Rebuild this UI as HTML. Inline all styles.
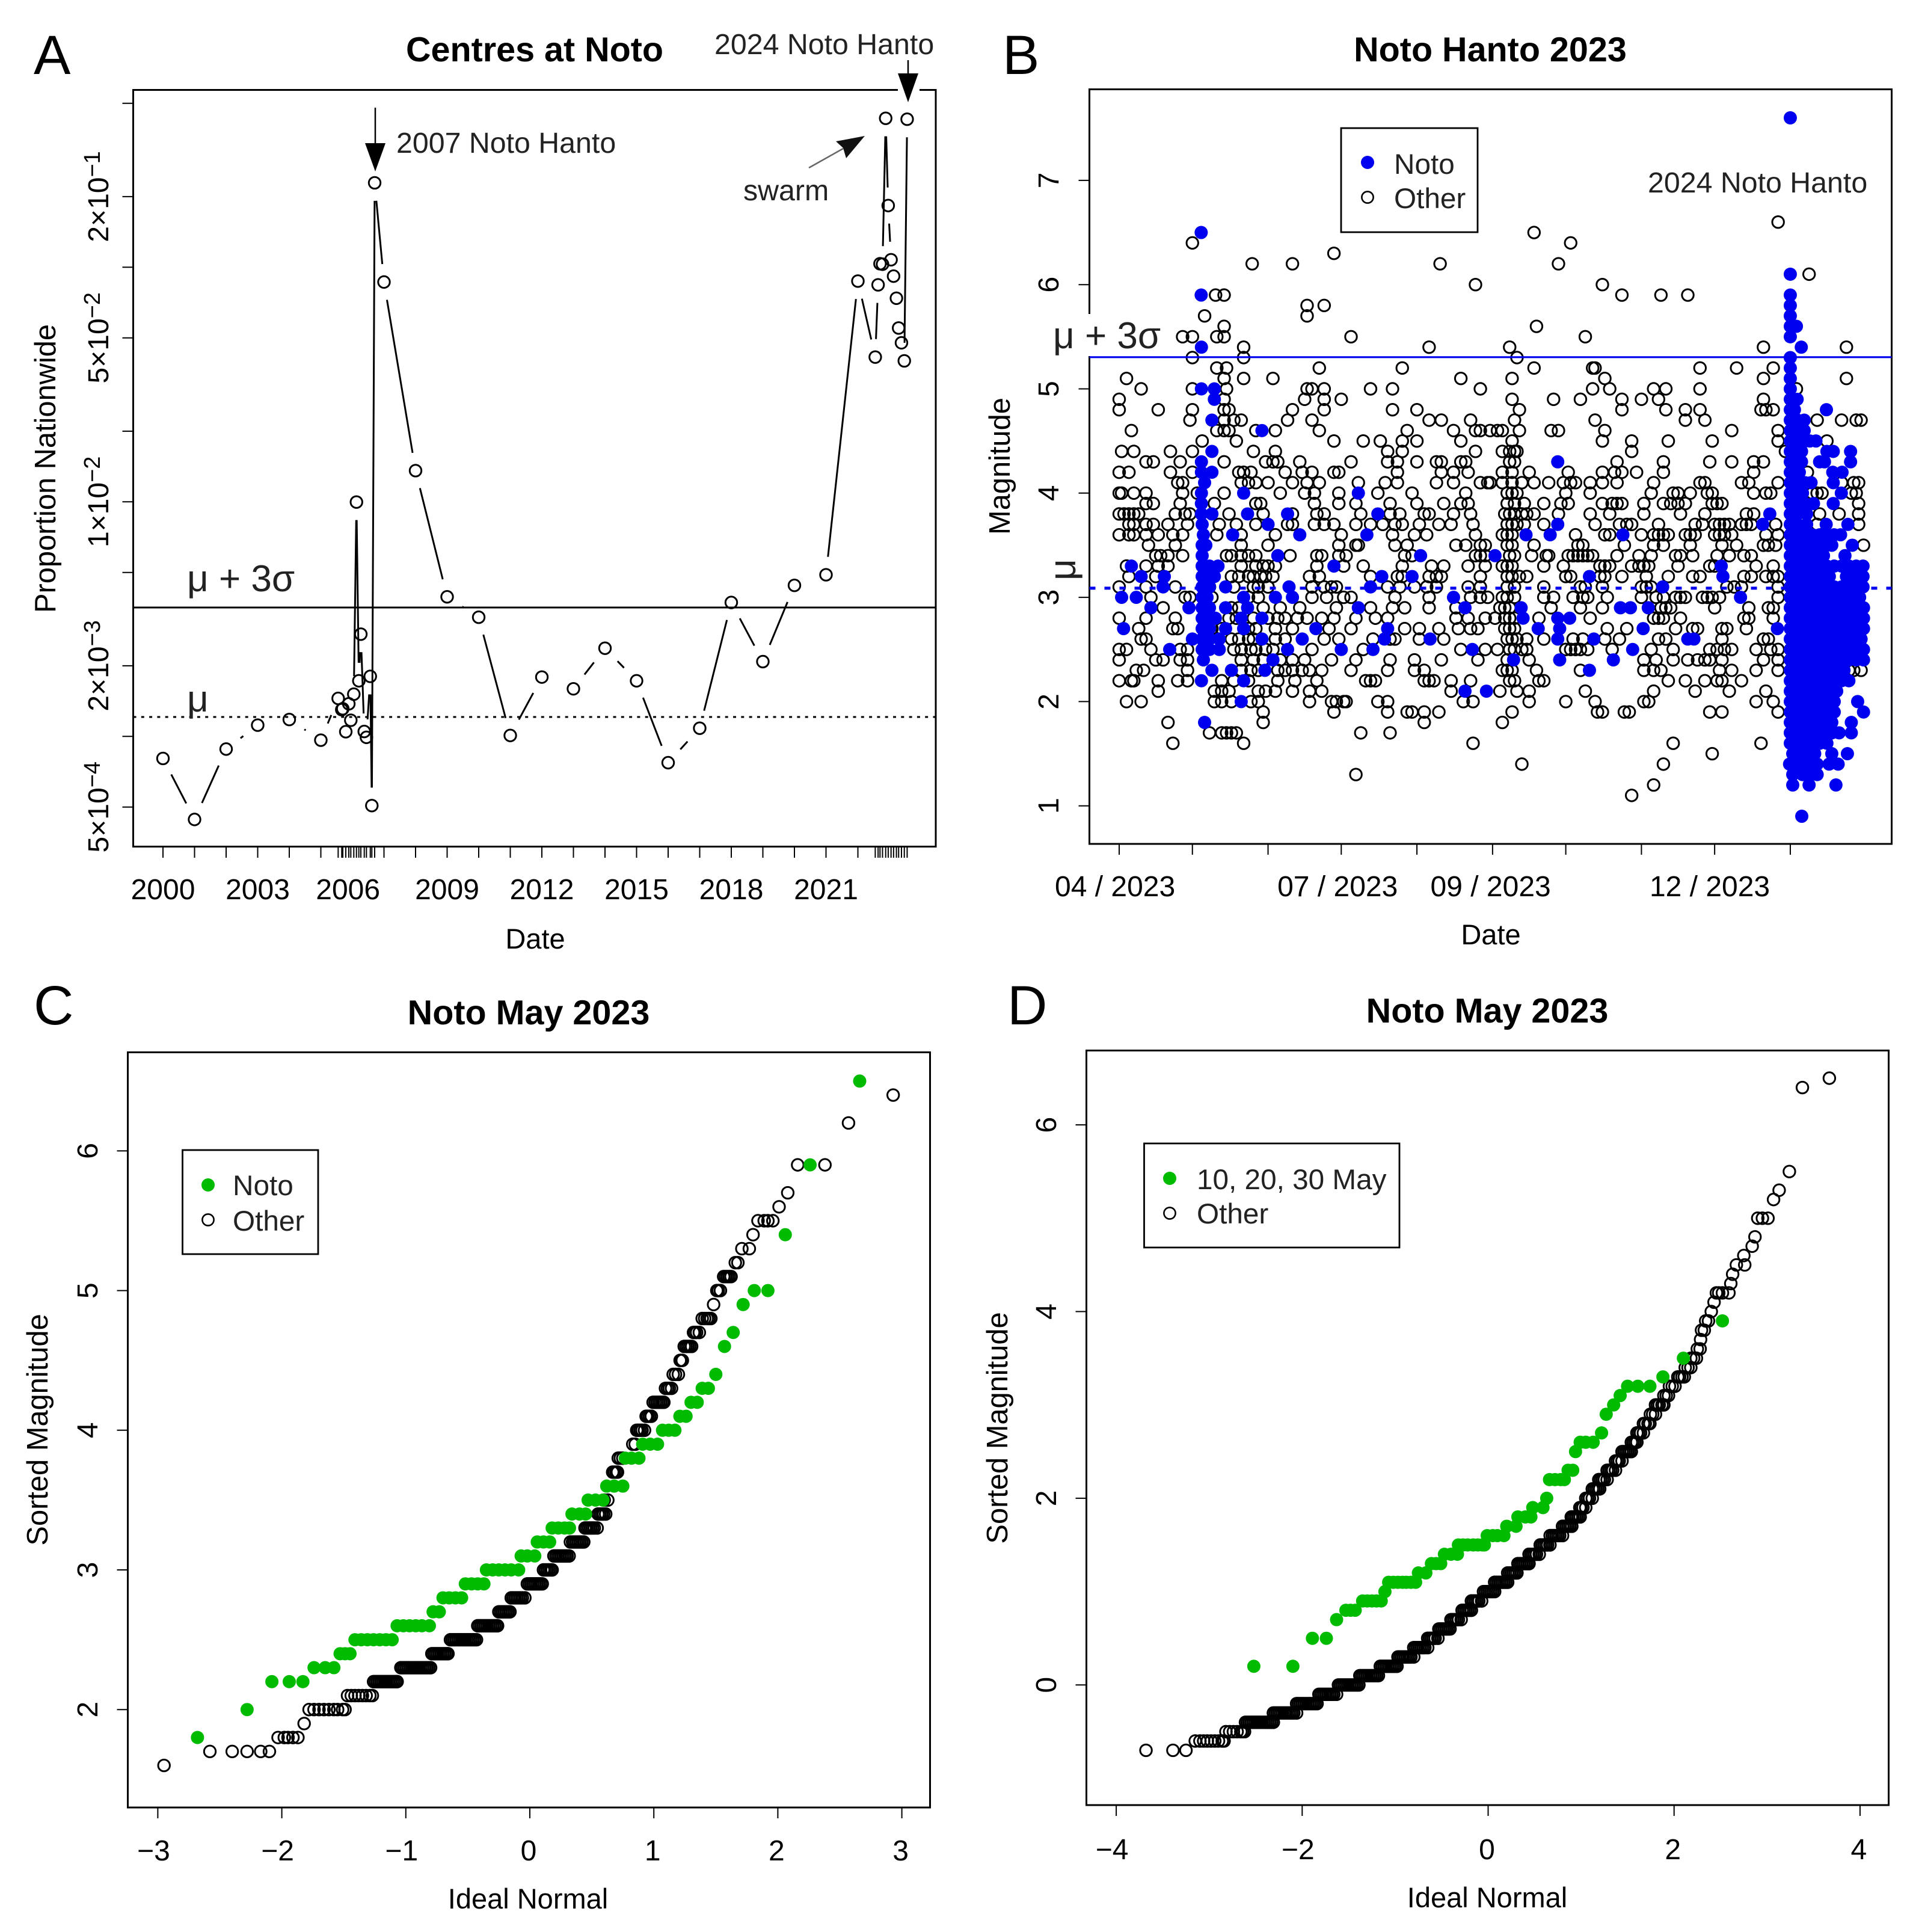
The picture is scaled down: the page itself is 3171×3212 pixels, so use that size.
<!DOCTYPE html>
<html lang="en">
<head>
<meta charset="utf-8">
<title>Noto seismicity figure</title>
<style>
html,body{margin:0;padding:0;background:#fff;}
svg{display:block;}
text{font-family:"Liberation Sans",sans-serif;fill:#000;}
.tick{font-size:48px;}
.axt{font-size:47px;}
.axy{font-size:48.8px;}
.ttl{font-size:57.5px;font-weight:bold;text-anchor:middle;}
.let{font-size:92px;}
.ann{font-size:48.3px;fill:#222;}
.mu{font-size:62px;fill:#222;}
.leg{font-size:47.7px;fill:#222;}
.mid{text-anchor:middle;}
</style>
</head>
<body>
<svg id="fig" xmlns="http://www.w3.org/2000/svg" width="3171" height="3212" viewBox="0 0 3171 3212">
<rect width="3171" height="3212" fill="#fff"/>

<g id="panelA"></g>
<g id="panelB"></g>
<g id="panelC"></g>
<g id="panelD"></g>

<g>
<text class="let" x="56" y="123">A</text>
<text class="ttl" x="889" y="102">Centres at Noto</text>
<text class="axt mid" x="890" y="1577">Date</text>
<text class="axy mid" transform="rotate(-90 92 779)" x="92" y="779">Proportion Nationwide</text>
<text class="mu" x="311" y="983">μ + 3σ</text>
<text class="mu" x="311" y="1183">μ</text>
<text class="ann" x="659" y="254">2007 Noto Hanto</text>
<text class="ann" x="1188" y="90">2024 Noto Hanto</text>
<text class="ann" x="1236" y="333">swarm</text>
<rect x="1493" y="144" width="36" height="12" fill="#fff"/>
<line x1="624" y1="179" x2="624" y2="242" stroke="#000" stroke-width="2.5"/>
<polygon points="607,238 641,238 624,285" fill="#000"/>
<line x1="1510" y1="100" x2="1510" y2="126" stroke="#000" stroke-width="2.5"/>
<polygon points="1493,122 1527,122 1510,170" fill="#000"/>
<line x1="1345" y1="279" x2="1402" y2="247" stroke="#666" stroke-width="2.5"/>
<polygon points="1438,226 1390,235 1402,246 1407,263" fill="#111"/>
</g>

<g>
<text class="let" x="1667" y="123">B</text>
<text class="ttl" x="2478" y="102">Noto Hanto 2023</text>
<text class="axt mid" x="2479" y="1570">Date</text>
<text class="axy mid" transform="rotate(-90 1679 775)" x="1679" y="775">Magnitude</text>
<rect x="1735" y="522" width="219" height="70" fill="#fff"/>
<text class="mu" x="1751" y="579">μ + 3σ</text>
<text class="mu mid" transform="rotate(-90 1788 947)" x="1788" y="947">μ</text>
<text class="ann" x="2740" y="320">2024 Noto Hanto</text>
<g>
<rect x="2230" y="213" width="227" height="173" fill="#fff" stroke="#000" stroke-width="2.8"/>
<circle cx="2274" cy="270" r="11" fill="#0000F0"/>
<text class="leg" x="2318" y="289">Noto</text>
<circle cx="2274" cy="328" r="9.6" fill="none" stroke="#000" stroke-width="2.6"/>
<text class="leg" x="2318" y="346">Other</text>
</g>
</g>

<g>
<text class="let" x="56" y="1703">C</text>
<text class="ttl" x="879" y="1703">Noto May 2023</text>
<text class="axt mid" x="878" y="3173">Ideal Normal</text>
<text class="axy mid" transform="rotate(-90 79 2377)" x="79" y="2377">Sorted Magnitude</text>
<g>
<rect x="303.5" y="1912" width="225.5" height="173" fill="#fff" stroke="#000" stroke-width="2.8"/>
<circle cx="346" cy="1970" r="11" fill="#00BB00"/>
<text class="leg" x="387" y="1987">Noto</text>
<circle cx="346" cy="2028" r="9.6" fill="none" stroke="#000" stroke-width="2.6"/>
<text class="leg" x="387" y="2046">Other</text>
</g>
</g>

<g>
<text class="let" x="1675" y="1703">D</text>
<text class="ttl" x="2473" y="1700">Noto May 2023</text>
<text class="axt mid" x="2473" y="3171">Ideal Normal</text>
<text class="axy mid" transform="rotate(-90 1675 2374)" x="1675" y="2374">Sorted Magnitude</text>
<g>
<rect x="1902.5" y="1901" width="424.5" height="173" fill="#fff" stroke="#000" stroke-width="2.8"/>
<circle cx="1945" cy="1959" r="11" fill="#00BB00"/>
<text class="leg" x="1990" y="1977">10, 20, 30 May</text>
<circle cx="1945" cy="2017" r="9.6" fill="none" stroke="#000" stroke-width="2.6"/>
<text class="leg" x="1990" y="2034">Other</text>
</g>
</g>
</svg>

<script>
/* ---------- Panel A data ---------- */
const centreYears = [2000,2001,2002,2003,2004,2005,2005.549,2005.663,2005.695,2005.79,2005.886,2005.949,2006.044,2006.128,2006.204,2006.267,2006.375,2006.444,2006.566,2006.615,2006.705,2007,2008,2009,2010,2011,2012,2013,2014,2015,2016,2017,2018,2019,2020,2021,2022.01,2022.56,2022.65,2022.71,2022.79,2022.89,2022.97,2023.06,2023.14,2023.23,2023.3,2023.39,2023.48,2023.57];
const centreLog10Proportion = [-3.094,-3.354,-3.054,-2.952,-2.928,-3.016,-2.838,-2.886,-2.882,-2.98,-2.861,-2.931,-2.82,-2.001,-2.763,-2.564,-2.979,-3.004,-2.744,-3.295,-0.64,-1.063,-1.867,-2.405,-2.492,-2.996,-2.747,-2.797,-2.624,-2.763,-3.112,-2.965,-2.429,-2.681,-2.356,-2.311,-1.059,-1.383,-1.075,-0.985,-0.987,-0.365,-0.737,-0.968,-1.038,-1.132,-1.259,-1.322,-1.399,-0.369];
const aYTicks = [5e-4,1e-3,2e-3,5e-3,1e-2,2e-2,5e-2,1e-1,2e-1,5e-1];
const aYLabelValues = [5e-4,2e-3,1e-2,5e-2,2e-1];
const aYLabelMantissa = ['5','2','1','5','2'];
const aYLabelExponent = ['\u22124','\u22123','\u22122','\u22122','\u22121'];
const aXLabelYears = [2000,2003,2005.86,2009,2012,2015,2018,2021];
const aXLabels = ['2000','2003','2006','2009','2012','2015','2018','2021'];
const aLog10Mu = -2.917;
const aLog10Mu3Sigma = -2.4505;

/* ---------- Panel B data: days since 1 Apr 2023, grouped by magnitude ---------- */
const otherMags = [6.6,6.5,6.4,6.3,6.2,6.1,6.0,5.9,5.8,5.7,5.6,5.5,5.4,5.3,5.2,5.1,5.0,4.9,4.8,4.7,4.6,4.5,4.4,4.3,4.2,4.1,4.0,3.9,3.8,3.7,3.6,3.5,3.4,3.3,3.2,3.1,3.0,2.9,2.8,2.7,2.6,2.5,2.4,2.3,2.2,2.1,2.0,1.9,1.8,1.7,1.6,1.5,1.4,1.3,1.2,1.1];
const otherDays = [
[270],[170],[30,185],[88],[54.5,71,131.5,180],[282.7],[146,198],[39.5,43,206,222,233],[77,84],[35,77],[43,171],
[26,30,40,43,95,191],
[51,127,160,264,298],
[30,51,163],
[40,44,82,116,170,194,195,238,253,268],
[3,43,51,63,140,161,199,264,298],
[9,30,44,77,79,84,103,112,148,194,201,219,224,238,277.5],
[0,43,76,84,91,161,178,189,206,214,221,264],
[0,16,30,43,45,71,84,112,122,164,206,224,232,238,263,265,268],
[29,43,47,50,69,79,127,132,144,162,195,232,240,286,296,302,304],
[5,40,43,45,56,64,82,118,137,146,148,152,155,157,164,177,180,199,251,270],
[34,48,88,100,107,116,122,140,161,198,210,225,243,270,290],
[1,6,21,30,55,64,110,116,146,157,160,162,163,210,273],
[11,14,25,43,60,63,65,74,95,110,114,122,130,132,140,142,160,162,204,223,242,251,260,264],
[0,4,21,30,49,51,54,68,75,79,88,90,114,132,137,143,157,161,168,184,198,203,206,212,223,260,282],
[24,26,50,53,56,61,71,77,82,98,109,114,130,137,148,151,152,157,161,165,170,176,182,185,187,193,198,204,219,238,240,255,258,270,296,301,303],
[0,1,6,11,26,32,43,66,76,80,90,106,120,142,159,161,163,183,193,218,227,229,234,241,243,260,265,267,284,286,288,300,302],
[11,14,25,39,56,58,80,90,97,111,122,133,140,143,159,162,166,174,181,184,198,202,204,206,215,223,226,229,232,243,245,247,303],
[0,2,4,6,8,23,27,29,45,59,71,81,84,99,111,115,125,127,137,144,158,160,162,165,167,170,180,193,201,215,230,240,257,260,287,295,303],
[4,6,11,14,20,28,41,48,56,69,71,80,84,88,97,103,108,113,116,123,131,136,145,159,161,163,166,174,195,205,208,210,221,236,239,244,246,248,250,255,257,259,269,286,303],
[0,4,6,11,16,22,26,40,50,64,91,112,121,126,146,157,159,161,187,199,201,214,219,221,223,225,232,234,236,244,246,248,251,265,270],
[12,23,50,61,90,97,98,113,118,138,142,148,150,159,161,170,188,190,207,219,223,234,247,253,264,266,269,305],
[15,17,20,26,44,46,50,53,56,70,81,83,90,93,117,120,146,148,150,160,162,169,175,176,184,186,188,190,192,194,204,213,218,228,230,235,245,250,256,259],
[3,11,16,20,50,56,59,61,64,81,92,100,116,128,133,143,150,157,159,161,174,182,197,199,201,210,213,215,217,229,242,244,261,268],
[4,15,46,49,53,55,58,60,63,78,82,103,114,116,127,130,132,148,159,161,164,167,183,185,197,199,206,216,225,235,238,256,259,265,268,270],
[0,11,23,37,47,55,57,61,79,84,87,89,110,115,121,126,130,143,148,159,162,174,189,191,198,214,216,218,249,252,255,270],
[13,27,29,38,53,57,79,85,92,95,113,127,144,148,151,157,159,162,174,178,186,190,192,200,214,220,223,228,230,232,239,241,243,246,270],
[18,46,49,59,66,74,89,103,112,117,127,138,156,158,160,177,189,198,222,224,226,244,258,266,268],
[0,11,23,45,48,55,61,65,68,73,77,83,88,97,105,110,138,143,150,154,158,160,162,172,193,219,221,223,230,256,258,268],
[8,22,24,38,42,53,56,64,71,86,95,117,123,131,139,144,147,158,160,162,200,208,228,235,237,247,249,257],
[9,11,46,49,53,55,64,68,84,90,104,111,113,123,133,159,161,163,167,174,186,190,199,205,221,224,247,264,266],
[0,3,13,25,28,47,50,54,56,60,63,79,100,140,150,155,160,162,165,167,183,185,187,189,192,202,218,227,242,245,248,251,261,267,270],
[0,15,18,25,28,50,55,59,66,71,76,87,97,111,121,132,147,159,168,215,220,227,233,237,240,242,247,264,270],
[7,10,28,50,54,57,65,68,71,75,78,83,95,110,121,125,157,159,161,171,189,215,219,222,246,251,261,270,299,301,304],
[0,5,6,16,24,28,42,47,53,65,72,81,101,103,105,125,127,129,136,144,160,162,172,174,225,232,240,245,247,255],
[16,39,42,45,57,60,64,71,78,83,136,156,163,168,191,219,236,250,265],
[3,9,39,42,46,54,57,78,87,89,92,93,106,110,141,145,168,183,195,215,217,261,268],
[59,88,110,118,120,125,131,161,196,198,207,209,242,247,270],
[20,59,125,157],
[37,42,44,46,48,99,111],
[22,51,145,227,263],
[243],
[165,223],
[97],
[219],
[210]
];
const notoMags = [7.6,6.5,6.1,5.9,5.8,5.7,5.6,5.5,5.4,5.3,5.2,5.1,5.0,4.9,4.8,4.7,4.6,4.5,4.4,4.3,4.2,4.1,4.0,3.9,3.8,3.7,3.6,3.5,3.4,3.3,3.2,3.1,3.0,2.9,2.8,2.7,2.6,2.5,2.4,2.3,2.2,2.1,2.0,1.9,1.8,1.7,1.6,1.5,1.4,1.3,1.2,0.9];
const notoDays = [
[275],[33.6],[275],[33.6,275],[275],[275],[275,277.5],[275],[33.7,279.5],[275],[275],[275],
[33.7,39,275],
[39,275,277.8],
[275,276.7,289.8],
[38,275,278,280.7],
[58.5,275,278,280.7],
[275,278,281,283,285.5],
[38,275,278,279.6,290,292.6,299.7],
[33.7,179.7,275,278,279.6,287,289,299.7],
[33.7,38,275,278.7,292.4,296.2],
[35,275,278,281,283.5,292.6],
[33.7,51,98,275,278,280,295.9],
[33.7,275,278,281,284.5,292.6],
[33.7,38,52.6,69,106,266.6,275,278,281.7],
[34,61,179.7,263.7,275,278,281.7,289.7,298.6],
[34.5,46.5,74,101.5,166.7,176.6,206.4,275,278,281,284,287,290,293,295.6],
[35.5,34,275,278,281,284,287,290,292,300.4],
[34,65,123.5,154,275,278,281,284,287,288.6,297.4],
[5,34,37,40.5,88,246.7,275,278,281,284,287,290,293,296,299,302,304.8],
[9,18.5,34,36,39,107.6,120,192.7,247.4,275,278,281,284,287,291,298,301,304.8],
[18,34,37,43.6,69.6,103,222.7,275,278,281,284,287,290,293,296,299,302,304.8],
[1,7,34,36,51,64,71,137,254.6,275,278,281,284,287,290,293,296,299,302,303.4],
[13,28.6,34,37,43.6,52.6,98,141.7,164.7,205.4,209.5,216.8,275,278,281,284,287,290,293,296,299,302,305],
[34,37,39.4,50,58.5,165.5,179.7,184.6,275,278,281,284,287,290,293,296,299,302,305],
[1.8,34,37,43.6,51,80.6,110,171.7,180.5,214.7,269.7,275,278,281,284,287,290,293,296,299,302,305],
[30,34,37,41,58.5,75,108.7,127.4,179.7,194.5,233,235.5,275,278,281,284,287,290,293,296,299,302,304],
[20.7,34,37,41,69,91,104,144.7,210.4,275,278,281,284,287,290,293,296,299,302,305],
[34.5,63,161.6,180.5,202.5,275,278,281,284,287,290,293,296,299,302,305],
[38,46,59.7,192.7,275,278,281,284,287,290,293,296,297],
[33.7,51,275,278,281,284,287,290,293,296,299],
[141.7,150.5,275,278,281,284,287,290,293,294],
[50,275,278,281,284,287,290,293,302.6],
[275,278,281,284,287,290,293,305],
[35,275,278,281,284,287,290,292,300],
[275,278,281,284,287,290,292,295,300],
[275,278,281,284,287,290],
[276,279,282.2,285,292,298.4],
[274.7,278.5,282,286,290.9,294.6],
[276,280,283.4,286],
[276,282.7,293.7],
[279.7]
];
const bMuMag = 3.088;
const bMu3SigmaMag = 5.304;
const bXTickDays = [0,30,61,91,122,153,183,214,244,275];
const bXLabelDays = [-1.7,89.5,152.2,242];
const bXLabels = ['04 / 2023','07 / 2023','09 / 2023','12 / 2023'];
const bYTicks = [1,2,3,4,5,6,7];

/* ---------- Panel C data ---------- */
const cNotoMags = [1.8,2.0,2.2,2.3,2.4,2.5,2.6,2.7,2.8,2.9,3.0,3.1,3.2,3.3,3.4,3.5,3.6,3.8,3.9,4.0,4.1,4.2,4.3,4.4,4.6,4.7,4.9,5.0,5.4,5.9,6.5];
const cNotoNormal = [[-2.68],[-2.28],[-2.08,-1.94,-1.83],[-1.74,-1.65,-1.58],[-1.53,-1.49,-1.45],
[-1.41,-1.36,-1.31,-1.26,-1.21,-1.16,-1.11],[-1.07,-1.02,-.97,-.92,-.87,-.81],[-.78,-.73],[-.70,-.65,-.60,-.55],[-.52,-.47,-.42,-.37],
[-.35,-.30,-.25,-.20,-.15,-.09],[-.07,-.02,.04],[.06,.11,.16],[.18,.23,.28,.32],[.34,.40,.45],[.47,.53,.59],[.62,.68,.75],[.77,.82,.88],[.91,.97,1.03],[1.07,1.12,1.17],[1.21,1.26],[1.30,1.35],[1.39,1.44],[1.50],[1.57],[1.64],[1.72],[1.81,1.92],[2.06],[2.26],[2.66]];
const cOtherMags = [1.6,1.7,1.8,1.9,2.0,2.1,2.2,2.3,2.4,2.5,2.6,2.7,2.8,2.9,3.0,3.1,3.2,3.3,3.4,3.5,3.7,3.8,3.9,4.0,4.1,4.2,4.3,4.4,4.5,4.6,4.7,4.8,4.9,5.0,5.1,5.2,5.3,5.4,5.5,5.6,5.7,5.9,6.2,6.4];
const cOtherNormal = [[-2.95],[-2.58,-2.40,-2.28,-2.17,-2.10],[-2.03,-1.98,-1.95,-1.91,-1.87],[-1.82],
[-1.78,-1.74,-1.70,-1.66,-1.62,-1.58,-1.55,-1.51,-1.49],[-1.47,-1.44,-1.41,-1.38,-1.35,-1.32,-1.29,-1.27],
[-1.26,-1.245,-1.23,-1.215,-1.2,-1.185,-1.17,-1.155,-1.14,-1.125,-1.11,-1.095,-1.08,-1.07],
[-1.04,-1.025,-1.01,-.995,-.98,-.965,-.95,-.935,-.92,-.905,-.89,-.875,-.86,-.845,-.83,-.815,-.80],
[-.79,-.775,-.76,-.745,-.73,-.715,-.70,-.685,-.67,-.66],
[-.64,-.625,-.61,-.595,-.58,-.565,-.55,-.535,-.52,-.505,-.49,-.475,-.46,-.445,-.43],
[-.42,-.405,-.39,-.375,-.36,-.345,-.33,-.315,-.30,-.285,-.27,-.26],
[-.25,-.235,-.22,-.205,-.19,-.175,-.16],
[-.15,-.135,-.12,-.105,-.09,-.075,-.06,-.04],
[-.02,-.005,.01,.025,.04,.055,.07,.085,.10],
[.11,.125,.14,.155,.17,.18],
[.194,.21,.225,.24,.255,.27,.285,.30,.317],
[.327,.345,.36,.375,.39,.405,.42,.435],
[.445,.46,.475,.49,.505,.52,.543],
[.55,.565,.58,.595,.612],[.60,.629],[.668,.68,.695,.707],[.713,.73,.75],[.83,.85],[.862,.875,.89,.905,.925],[.938,.95,.965,.98],[.994,1.01,1.025,1.04,1.055,1.07,1.081],[1.094,1.11,1.125,1.143],[1.156,1.175,1.198],[1.212,1.22,1.23],[1.245,1.26,1.275,1.29,1.305],[1.32,1.33,1.345,1.367],[1.39,1.41,1.43,1.445,1.46],[1.482],[1.508,1.52,1.537],[1.563,1.578,1.593,1.608,1.623],[1.657,1.678],[1.71,1.77],[1.80],[1.84,1.89,1.92,1.96],[2.01],[2.08],[2.16,2.38],[2.57],[2.93]];
const cXTicks = [-3,-2,-1,0,1,2,3];
const cYTicks = [2,3,4,5,6];

/* ---------- Panel D data ---------- */
const dDateMags = [0.2,0.5,0.7,0.8,0.9,1.0,1.1,1.2,1.3,1.4,1.5,1.6,1.7,1.8,1.9,2.0,2.2,2.3,2.5,2.6,2.7,2.9,3.0,3.1,3.2,3.3,3.5,3.9];
const dDateNormal = [[-2.52,-2.10],[-1.89,-1.74],[-1.63],[-1.53,-1.48,-1.43],[-1.35,-1.30,-1.25,-1.20,-1.15],[-1.11],[-1.07,-1.02,-.97,-.92,-.88,-.83,-.78],[-.75,-.67],[-.61,-.56,-.51],[-.47,-.40,-.33],[-.32,-.27,-.22,-.16,-.11,-.06,-.04],[-.01,.05,.10,.17],[.20,.30],[.32,.40,.46],[.48,.59],[.63],[.66,.72,.78,.82],[.86,.91],[.94],[.99,1.05,1.13],[1.22],[1.27],[1.35],[1.42],[1.50,1.61,1.74],[1.88],[2.10],[2.52]];
const dOtherMags = [-0.7,-0.6,-0.5,-0.4,-0.3,-0.2,-0.1,0.0,0.1,0.2,0.3,0.4,0.5,0.6,0.7,0.8,0.9,1.0,1.1,1.2,1.3,1.4,1.5,1.6,1.7,1.8,1.9,2.0,2.1,2.2,2.3,2.4,2.5,2.6,2.7,2.8,2.9,3.0,3.1,3.2,3.3,3.4,3.5,3.6,3.7,3.8,3.9,4.0,4.1,4.2,4.3,4.4,4.5,4.6,4.7,4.8,5.0,5.2,5.3,5.5,6.4,6.5];
const dOtherNormal = [[-3.68,-3.39,-3.25],[-3.15,-3.10,-3.06,-3.02,-2.98,-2.94,-2.90,-2.86,-2.84],[-2.82,-2.78,-2.74,-2.70,-2.66,-2.64,-2.62],
[-2.61,-2.59,-2.57,-2.55,-2.53,-2.51,-2.49,-2.47,-2.45,-2.43,-2.41,-2.39,-2.37,-2.35,-2.33,-2.31],
[-2.31,-2.29,-2.27,-2.25,-2.23,-2.21,-2.19,-2.17,-2.15,-2.13,-2.11,-2.09,-2.06],
[-2.06,-2.04,-2.02,-2.00,-1.98,-1.96,-1.94,-1.92,-1.90,-1.88,-1.86,-1.84],
[-1.82,-1.80,-1.78,-1.76,-1.74,-1.72,-1.70,-1.68,-1.66,-1.63],
[-1.61,-1.59,-1.57,-1.55,-1.53,-1.51,-1.49,-1.47,-1.45,-1.43,-1.41,-1.39],
[-1.38,-1.36,-1.34,-1.32,-1.30,-1.28,-1.26,-1.24,-1.22,-1.20,-1.18],
[-1.16,-1.14,-1.12,-1.10,-1.08,-1.06,-1.04,-1.02,-1.00,-.98],
[-.97,-.95,-.93,-.91,-.89,-.87,-.85,-.83,-.80],
[-.80,-.78,-.76,-.74,-.72,-.70,-.68,-.65],
[-.65,-.63,-.61,-.59,-.57,-.54],
[-.53,-.51,-.49,-.47,-.45,-.43,-.41],
[-.40,-.38,-.36,-.34,-.32,-.29],
[-.28,-.26,-.24,-.22,-.20,-.18],
[-.18,-.16,-.14,-.12,-.10,-.07],
[-.05,-.03,-.01,.01,.03,.05,.07],
[.07,.09,.11,.13,.15,.17,.19,.21],
[.21,.23,.25,.27,.29,.31],
[.32,.34,.36,.38,.40,.42,.44],
[.44,.46,.48,.50,.52,.55],
[.56,.58,.60,.62,.64,.665],
[.667,.69,.71,.73,.75,.77,.80],
[.80,.82,.84,.86,.88,.90],
[.894,.91,.93,.95,.97,.99],
[.986,1.00,1.02,1.05],
[1.05,1.07,1.09,1.12],
[1.12,1.14,1.16,1.18,1.20],
[1.19,1.21,1.23,1.25,1.28],
[1.28,1.30,1.32,1.34,1.37],
[1.37,1.39,1.41,1.44],
[1.44,1.46,1.48,1.50,1.52,1.54],
[1.54,1.56,1.58,1.60],
[1.60,1.62,1.64,1.67],
[1.67,1.69,1.72,1.74],
[1.745,1.77,1.80],
[1.80,1.82,1.84,1.87,1.89],
[1.89,1.915,1.94],
[1.95,1.98,2.01],
[2.04,2.06,2.085,2.11],
[2.12,2.15,2.18],
[2.18,2.21,2.24],
[2.25,2.28],
[2.285],
[2.295,2.325],
[2.34,2.37],
[2.40],
[2.43],
[2.455,2.48,2.52,2.59],
[2.61],[2.63],[2.67,2.76],[2.75],[2.84],[2.87],[2.90,2.95,3.01],[3.07],[3.13],[3.24],[3.38],[3.67]];
const dXTicks = [-4,-2,0,2,4];
const dYTicks = [0,2,4,6];

/* ---------- Axis functions ---------- */
const xA = t => 271 + 52.5 * (t - 2000);
const yA = lp => 1341.7 - 390 * (lp + 3.301);
const xB = d => 1861 + 4.058 * d;
const yB = m => 1339.7 - 173.3 * (m - 1);
const xC = u => 881 + 206.2 * u;
const yC = m => 2842.2 - 232.2 * (m - 2);
const xD = u => 2474.5 + 154.6 * u;
const yD = m => 2801.3 - 155.2 * m;

const NS = 'http://www.w3.org/2000/svg';
const BLUE = '#0000F0', GREEN = '#00BB00';

function mk(parent, tag, attrs) {
  const el = document.createElementNS(NS, tag);
  for (const k in attrs) el.setAttribute(k, attrs[k]);
  parent.appendChild(el);
  return el;
}
function box(g, x, y, w, h) {
  const el = mk(g, 'rect', {x: x, y: y, width: w, height: h, fill: 'none', stroke: '#000', 'stroke-width': 3});
  
  
}
function xTick(g, x, y0) {
  const el = mk(g, 'line', {x1: x, x2: x, y1: y0, y2: y0 + 18, stroke: '#000', 'stroke-width': 2});
  
  
}
function yTick(g, y, x0) {
  const el = mk(g, 'line', {x1: x0 - 18, x2: x0, y1: y, y2: y, stroke: '#000', 'stroke-width': 2});
  
  
}
function xLabel(g, x, y, s) {
  const el = mk(g, 'text', {x: x, y: y, class: 'tick mid'});
  el.textContent = s;
  
  
}
function yLabel(g, x, y, s) {
  const el = mk(g, 'text', {x: x, y: y, class: 'tick mid', transform: 'rotate(-90 ' + x + ' ' + y + ')'});
  el.textContent = s;
  
  
}
function openDot(g, x, y) {
  const el = mk(g, 'circle', {cx: x, cy: y, r: 9.7, fill: 'none', stroke: '#000', 'stroke-width': 3});
  
  
}
function solidDot(g, x, y, c) {
  const el = mk(g, 'circle', {cx: x, cy: y, r: 11, fill: c});
  
  
}
function rows(g, mags, vals, fx, fy, draw) {
  mags.forEach((m, i) => (vals[i] || []).forEach(v => draw(g, fx(v), fy(m))));
}

/* ---------- Panel A ---------- */
(function () {
  const g = document.getElementById('panelA');
  box(g, 221.5, 149.5, 1334.5, 1258);
  centreYears.forEach(t => xTick(g, xA(t), 1408));
  aXLabelYears.forEach((t, i) => xLabel(g, xA(t), 1495, aXLabels[i]));
  aYTicks.forEach(v => yTick(g, yA(Math.log10(v)), 221.5));
  aYLabelValues.forEach((v, i) => {
    const y = yA(Math.log10(v));
    const el = mk(g, 'text', {x: 180, y: y, class: 'tick mid', transform: 'rotate(-90 180 ' + y + ')'});
    
    
    const a = mk(el, 'tspan', {});
    a.textContent = aYLabelMantissa[i] + '\u00D710';
    const b = mk(el, 'tspan', {dy: -14, style: 'font-size:38px'});
    b.textContent = aYLabelExponent[i];
  });
  let el = mk(g, 'line', {x1: 221.5, x2: 1556, y1: yA(aLog10Mu3Sigma), y2: yA(aLog10Mu3Sigma), stroke: '#000', 'stroke-width': 3});
  
  
  el = mk(g, 'line', {x1: 221.5, x2: 1556, y1: yA(aLog10Mu), y2: yA(aLog10Mu), stroke: '#000', 'stroke-width': 3, 'stroke-dasharray': '5 8.3'});
  
  
  const gap = 30;
  for (let i = 0; i + 1 < centreYears.length; i++) {
    const x1 = xA(centreYears[i]), y1 = yA(centreLog10Proportion[i]);
    const x2 = xA(centreYears[i + 1]), y2 = yA(centreLog10Proportion[i + 1]);
    const L = Math.hypot(x2 - x1, y2 - y1);
    if (L <= 2 * gap) continue;
    const ux = (x2 - x1) / L, uy = (y2 - y1) / L;
    const seg = mk(g, 'line', {x1: x1 + ux * gap, y1: y1 + uy * gap, x2: x2 - ux * gap, y2: y2 - uy * gap, stroke: '#000', 'stroke-width': 3});
    
    
  }
  centreYears.forEach((t, i) => openDot(g, xA(t), yA(centreLog10Proportion[i])));
})();

/* ---------- Panel B ---------- */
(function () {
  const g = document.getElementById('panelB');
  box(g, 1811.5, 148.5, 1334, 1254.5);
  bXTickDays.forEach(d => xTick(g, xB(d), 1403));
  bXLabelDays.forEach((d, i) => xLabel(g, xB(d), 1490, bXLabels[i]));
  bYTicks.forEach(m => {
    yTick(g, yB(m), 1811.5);
    yLabel(g, 1760, yB(m), String(m));
  });
  rows(g, otherMags, otherDays, xB, yB, openDot);
  rows(g, notoMags, notoDays, xB, yB, (gg, x, y) => solidDot(gg, x, y, BLUE));
  let el = mk(g, 'line', {x1: 1811.5, x2: 3145.5, y1: yB(bMu3SigmaMag), y2: yB(bMu3SigmaMag), stroke: BLUE, 'stroke-width': 3.2});
  
  
  el = mk(g, 'line', {x1: 1811.5, x2: 3145.5, y1: yB(bMuMag), y2: yB(bMuMag), stroke: BLUE, 'stroke-width': 5, 'stroke-dasharray': '10 15'});
  
  
})();

/* ---------- Panel C ---------- */
(function () {
  const g = document.getElementById('panelC');
  box(g, 212.5, 1749.5, 1334, 1255.5);
  cXTicks.forEach(v => {
    xTick(g, xC(v), 3005);
    xLabel(g, xC(v) - (v < 0 ? 7 : 2), 3093, (v < 0 ? '\u2212' : '') + Math.abs(v));
  });
  cYTicks.forEach(m => {
    yTick(g, yC(m), 212.5);
    yLabel(g, 162, yC(m), String(m));
  });
  rows(g, cOtherMags, cOtherNormal, xC, yC, openDot);
  rows(g, cNotoMags, cNotoNormal, xC, yC, (gg, x, y) => solidDot(gg, x, y, GREEN));
})();

/* ---------- Panel D ---------- */
(function () {
  const g = document.getElementById('panelD');
  box(g, 1806.5, 1746.5, 1334, 1254.5);
  dXTicks.forEach(v => {
    xTick(g, xD(v), 3001);
    xLabel(g, xD(v) - (v < 0 ? 7 : 2), 3091, (v < 0 ? '\u2212' : '') + Math.abs(v));
  });
  dYTicks.forEach(m => {
    yTick(g, yD(m), 1806.5);
    yLabel(g, 1756, yD(m), String(m));
  });
  rows(g, dOtherMags, dOtherNormal, xD, yD, openDot);
  rows(g, dDateMags, dDateNormal, xD, yD, (gg, x, y) => solidDot(gg, x, y, GREEN));
})();
</script>
</body>
</html>
